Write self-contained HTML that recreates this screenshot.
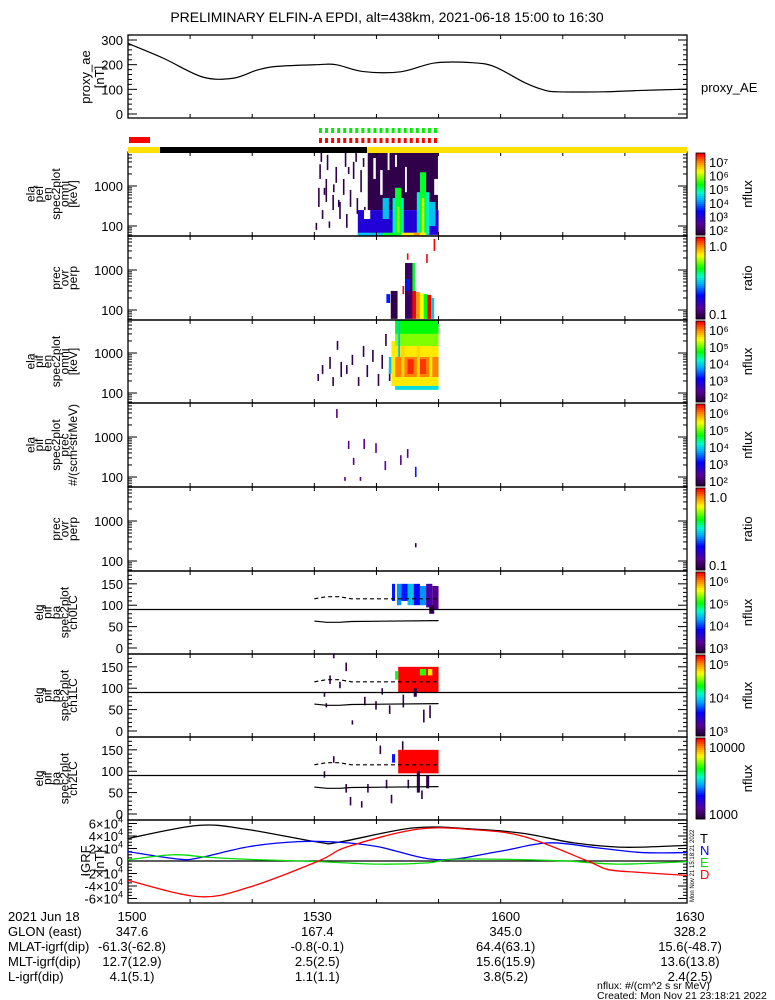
<!DOCTYPE html>
<html><head><meta charset="utf-8"><style>
body{margin:0;background:#fff}
svg{display:block;font-family:"Liberation Sans",sans-serif}
</style></head><body>
<svg id="c" width="775" height="1000" viewBox="0 0 775 1000"></svg>
<script>
// ---- data ----
const aeTimes=[0,5.7,12,16.9,20.8,24,30.4,33.5,37.9,43.9,49.4,55.4,59,63.8,66.9,69.3,76.5,82,89,90];
const aeValues=[286,226,150,145,178,193,200,200,172,171,207,208,192,128,98,90,90,95,100,100];
const igrfT_t=[0,11.4,19.5,30.7,33.9,46,55.7,63.8,71.8,79.9,90];
const igrfT_v=[36000,57000,50000,30000,30000,53000,51000,44000,29000,22000,25000];
const igrfN_t=[0,8.1,11.4,19.5,27.4,33.9,40.2,49.9,59.6,67.6,75.6,82.8,90];
const igrfN_v=[15000,3000,5000,23000,31000,30000,23000,2000,15000,29000,21000,13500,13500];
const igrfE_t=[0,7.3,12.9,21,30.7,40.2,48.3,53.1,69.3,78.8,90];
const igrfE_v=[2000,10000,6000,2000,-1000,-5000,-3000,3000,500,-5000,-1000];
const igrfD_t=[0,11.4,19.5,30.7,35.4,46.7,55.7,63.8,74,77.2,82,90];
const igrfD_v=[-31000,-57000,-42000,0,23000,51000,50000,39000,0,-13500,-18000,-23000];
const aeTicks=[0,100,200,300];
const igrfTicks=[6,4,2,0,-2,-4,-6];
const timeLabels=["1500","1530","1600","1630"];
const glon=["347.6","167.4","345.0","328.2"];
const mlat=["-61.3(-62.8)","-0.8(-0.1)","64.4(63.1)","15.6(-48.7)"];
const mlt=["12.7(12.9)","2.5(2.5)","15.6(15.9)","13.6(13.8)"];
const lshell=["4.1(5.1)","1.1(1.1)","3.8(5.2)","2.4(2.5)"];
// spectrogram blocks: [t0,t1,E0,E1,level]  (level -1 = empty)
const p1Blocks=[[38.6,49.9,250,7000,0.02],[39.5,39.9,1500,5000,-1],[40.6,41,600,2500,-1],[41.8,42.1,2500,7000,-1],[43,43.3,3000,6000,-1],[44.6,44.9,700,3000,-1],[49.3,49.9,600,1500,-1],[37,50,60,250,0.22],[38,39,150,250,-1],[41,42,150,500,0.45],[42.6,44.4,60,500,0.5],[43,44,60,900,0.6],[43.3,43.7,60,300,0.72],[46.5,48.5,60,700,0.5],[47,48,60,2200,0.6],[47.3,47.7,60,500,0.75],[48.5,49.5,100,400,0.45],[37,41,56,68,0.45],[41,44,56,68,0.6],[44,48,56,68,0.8],[46,47,56,68,0.88]];
const p1Speckles=[[30.2,80,120],[30.6,300,900],[31.2,150,250],[31.8,400,1500],[32.3,90,130],[32.9,250,600],[33.4,1200,3000],[34,150,400],[34.6,600,1500],[35.1,90,200],[35.7,300,800],[36.2,1500,4000],[36.8,200,500],[37.4,700,2500],[38,120,300],[32,2500,6000],[34.9,3000,7000],[30.8,1500,3500],[36.6,4000,7000],[31.5,600,900],[33,700,1100],[35.4,2000,3000],[37.8,3000,5000],[31,4000,7000],[33.8,300,450]];
const p2Blocks=[[42.3,43.4,60,300,0.02],[41.6,42.2,150,250,0.3],[44.6,45.8,60,1500,0.05],[44.8,45.4,300,600,0.3],[45.8,46.2,300,1500,0.6],[45.8,46.4,60,300,1.0],[46.4,47,60,280,0.88],[47,47.6,60,260,0.78],[47.6,48.2,60,250,0.62],[48.2,48.8,60,240,1.0],[48.8,49.3,60,200,0.45]];
const p2Speckles=[[49.2,3000,6000],[48.0,1500,2500],[44.2,250,400],[44.9,1800,2600]];
const p3Blocks=[[43,50,3000,6700,0.62],[43,50,1500,3000,0.7],[43,50,800,1500,0.8],[43,50,250,800,0.9],[45,46,300,700,0.97],[47,48,300,700,0.96],[44,44.5,250,1500,0.82],[46.5,47,250,1500,0.82],[48.5,49,250,1500,0.8],[43,50,150,250,0.8],[43,50,120,150,0.48],[42.4,43,150,2000,0.8],[42,42.4,300,800,0.45],[43.5,43.8,800,6700,0.45]];
const p3Speckles=[[30.5,200,300],[31.2,300,500],[32.4,400,800],[32.9,150,250],[33.6,1200,2000],[34.2,250,600],[35.1,300,500],[36,500,900],[37,150,250],[37.8,800,1500],[38.4,250,500],[39.3,600,1200],[40.2,150,300],[40.8,400,900],[41.4,1500,3000],[42,200,400]];
const p4Speckles=[[33.5,3000,5000],[35.4,500,800],[37.9,500,900],[36.2,200,300],[39.8,400,700],[41.3,150,250],[43.8,200,350],[44.9,300,500],[46.2,100,180],[34.8,80,100],[37.3,80,100]];
const p5Speckles=[[46.2,220,280]];
// pitch-angle blocks: [t0,t1,pa0,pa1,level]
const p6Blocks=[[42.5,43,110,150,0.3],[43.3,44,100,150,0.4],[44,45,110,150,0.3],[45,46,100,150,0.45],[46,47,100,150,0.28],[47,48,100,145,0.4],[48,49,95,150,0.15],[49,50,90,145,0.1],[48.5,49.3,80,100,0.02]];
const p7Blocks=[[43.5,50,90,150,1.0],[43,43.5,120,140,0.6],[47,48,130,145,0.65],[48.3,49,130,145,0.8],[46,46.5,80,100,0.02]];
const p7Speckles=[[31.5,80,90],[32.4,110,130],[34,100,115],[35,140,160],[33,170,180],[31.8,55,65],[38,60,80],[39.8,50,70],[40.8,85,100],[42,40,60],[44.2,55,85],[45.5,90,110],[47.5,20,50],[48.5,30,60],[36,15,25]];
const p8Blocks=[[43.5,50,95,150,1.0],[42.5,43,120,140,0.3],[46.5,47,50,100,0.02],[48,48.5,60,90,0.02]];
const p8Speckles=[[31.5,85,100],[33,120,135],[35,50,70],[35.7,20,40],[37.5,15,30],[38.5,50,70],[40.5,140,160],[41.5,60,80],[42.3,25,45],[44.1,150,170],[45,60,80],[47.2,35,55]];

// ---- helpers ----
const svg=document.getElementById('c');const NS='http://www.w3.org/2000/svg';
const X0=128,X1=687;
function tx(t){return X0+t*(X1-X0)/90;}
function mk(tag,attrs,parent){const e=document.createElementNS(NS,tag);for(const k in attrs)e.setAttribute(k,attrs[k]);(parent||svg).appendChild(e);return e;}
function txt(s,x,y,size,anchor,fill,rot){const e=mk('text',{x:x,y:y,'font-size':size,'text-anchor':anchor||'start',fill:fill||'#000'});if(rot)e.setAttribute('transform','rotate(-90 '+x+' '+y+')');e.textContent=s;return e;}
function smooth(pts){let d='M'+pts[0][0]+' '+pts[0][1];for(let i=0;i<pts.length-1;i++){const p0=pts[i-1]||pts[i],p1=pts[i],p2=pts[i+1],p3=pts[i+2]||p2;
 d+=' C'+(p1[0]+(p2[0]-p0[0])/6)+' '+(p1[1]+(p2[1]-p0[1])/6)+' '+(p2[0]-(p3[0]-p1[0])/6)+' '+(p2[1]-(p3[1]-p1[1])/6)+' '+p2[0]+' '+p2[1];}return d;}
function cmap(l){if(l<0)return '#fff';const st=[[0,[40,0,60]],[0.12,[90,0,150]],[0.28,[0,0,255]],[0.42,[0,170,255]],[0.52,[0,255,200]],[0.62,[0,255,0]],[0.78,[255,255,0]],[0.9,[255,130,0]],[1,[255,0,0]]];for(let i=1;i<st.length;i++){if(l<=st[i][0]){const a=st[i-1],b=st[i],f=(l-a[0])/(b[0]-a[0]);return 'rgb('+a[1].map((v,j)=>Math.round(v+(b[1][j]-v)*f)).join(',')+')';}}return 'rgb(255,0,0)';}

let e=txt('PRELIMINARY ELFIN-A EPDI, alt=438km, 2021-06-18 15:00 to 16:30',387,22,14,'middle');


const panels=[
 {top:35,bot:118,name:'ae-panel'},
 {top:152,bot:236,name:'pef-en-omni-panel',log:186,lines:['ela','pef','en','spec2plot','omni','[keV]'],cb:['10⁷','10⁶','10⁵','10⁴','10³','10²'],cbt:'nflux'},
 {top:236,bot:320,name:'pef-ratio-panel',log:270,lines:['prec','ovr','perp'],cb:['1.0','0.1'],cbt:'ratio'},
 {top:320,bot:403,name:'pif-en-omni-panel',log:353,lines:['ela','pif','en','spec2plot','omni','[keV]'],cb:['10⁶','10⁵','10⁴','10³','10²'],cbt:'nflux'},
 {top:403,bot:487,name:'pif-en-prec-panel',log:437,lines:['ela','pif','en','spec2plot','prec','#/(scm²strMeV)'],cb:['10⁶','10⁵','10⁴','10³','10²'],cbt:'nflux'},
 {top:487,bot:571,name:'pif-ratio-panel',log:521,lines:['prec','ovr','perp'],cb:['1.0','0.1'],cbt:'ratio'},
 {top:571,bot:654,name:'pa-ch0-panel',pa:true,lines:['elq','pif','pa','spec2plot','ch0LC'],cb:['10⁶','10⁵','10⁴','10³'],cbt:'nflux'},
 {top:654,bot:737,name:'pa-ch1-panel',pa:true,lines:['elq','pif','pa','spec2plot','ch1LC'],cb:['10⁵','10⁴','10³'],cbt:'nflux'},
 {top:737,bot:820,name:'pa-ch2-panel',pa:true,lines:['elq','pif','pa','spec2plot','ch2LC'],cb:['10000','1000'],cbt:'nflux'},
 {top:820,bot:903,name:'igrf-panel'}
];
function ey(p,E){return p.log-(Math.log10(E)-3)*40;}
function py(p,a){return p.bot-6-a*77/180;}
function drawBlocks(p,blocks,fy){const g=mk('g',{});
 blocks.forEach(b=>{let y1=Math.max(fy(b[3]),p.top),y2=Math.min(fy(b[2]),p.bot);const r=mk('rect',{x:tx(b[0]),y:y1,width:tx(b[1])-tx(b[0]),height:Math.max(0,y2-y1),fill:cmap(b[4])},g);});}
function drawSpeck(p,sp,fy,lev){const g=mk('g',{});
 sp.forEach(s=>{let y1=Math.max(fy(s[2]),p.top),y2=Math.min(fy(s[1]),p.bot);const r=mk('rect',{x:tx(s[0]),y:y1,width:1.6,height:y2-y1,fill:cmap(s[0]>46&&s[0]<46.5&&p.name.indexOf('prec')>0?0.3:lev)},g);});}

const P=panels;
drawSpeck(P[1],p1Speckles,E=>ey(P[1],E),0.02);
drawBlocks(P[1],p1Blocks,E=>ey(P[1],E));
drawBlocks(P[2],p2Blocks,E=>ey(P[2],E));
drawSpeck(P[2],p2Speckles,E=>ey(P[2],E),1.0);
drawSpeck(P[3],p3Speckles,E=>ey(P[3],E),0.02);
drawBlocks(P[3],p3Blocks,E=>ey(P[3],E));
drawSpeck(P[4],p4Speckles,E=>ey(P[4],E),0.12);
drawSpeck(P[5],p5Speckles,E=>ey(P[5],E),0.02);
drawBlocks(P[6],p6Blocks,a=>py(P[6],a));
drawSpeck(P[7],p7Speckles,a=>py(P[7],a),0.02);
drawBlocks(P[7],p7Blocks,a=>py(P[7],a));
drawSpeck(P[8],p8Speckles,a=>py(P[8],a),0.02);
drawBlocks(P[8],p8Blocks,a=>py(P[8],a));

const lcDash=[[30,115],[32,120],[34,120],[36,115],[50,115]];
const lcSolid=[[30,63],[32,60],[34,60],[36,62],[50,64]];
[6,7,8].forEach(i=>{const p=P[i];
 const d=mk('path',{d:lcDash.map((q,j)=>(j?'L':'M')+tx(q[0])+' '+py(p,q[1])).join(''),fill:'none',stroke:'#000','stroke-dasharray':'4,3','stroke-width':1.2});
 
 const s=mk('path',{d:lcSolid.map((q,j)=>(j?'L':'M')+tx(q[0])+' '+py(p,q[1])).join(''),fill:'none',stroke:'#000','stroke-width':1.2});
 
 const h=mk('line',{x1:X0,x2:X1,y1:py(p,90),y2:py(p,90),stroke:'#000','stroke-width':1.3});
 
});

P.forEach((p,i)=>{
 const f=mk('rect',{x:X0,y:p.top,width:X1-X0,height:p.bot-p.top,fill:'none',stroke:'#000','stroke-width':1.3});
 
 for(let m=10;m<90;m+=10){mk('line',{x1:tx(m),x2:tx(m),y1:p.top,y2:p.top+4,stroke:'#000'});mk('line',{x1:tx(m),x2:tx(m),y1:p.bot-4,y2:p.bot,stroke:'#000'});}
 const lab=mk('g',{});
 if(p.lines){const n=p.lines.length,cy=(p.top+p.bot)/2;p.lines.forEach((s,j)=>{const x=77-(n-1-j)*8.5;const t=txt(s,x,cy,12,'middle','#000',true);lab.appendChild(t);});}
 if(p.log){const g=mk('g',{});
  [100,1000].forEach(v=>{const y=ey(p,v);g.appendChild(txt(String(v),123,y+5,13,'end'));});
  for(let dec=10;dec<=10000;dec*=10)for(let k=1;k<10;k++){const v=dec*k,y=ey(p,v);if(y<p.top||y>p.bot)continue;const L=k==1?9:4;mk('line',{x1:X0,x2:X0+L,y1:y,y2:y,stroke:'#000'},g);mk('line',{x1:X1-L,x2:X1,y1:y,y2:y,stroke:'#000'},g);}
 }
 if(p.pa){const g=mk('g',{});
  [0,50,100,150].forEach(v=>g.appendChild(txt(String(v),123,py(p,v)+5,13,'end')));
  for(let a=0;a<=180;a+=10){const y=py(p,a);if(y<p.top)continue;const L=a%50==0?9:4;mk('line',{x1:X0,x2:X0+L,y1:y,y2:y,stroke:'#000'},g);mk('line',{x1:X1-L,x2:X1,y1:y,y2:y,stroke:'#000'},g);}
 }
 if(p.cb){const g=mk('g',{});
  const h=p.bot-p.top-2,n=40;for(let k=0;k<n;k++){mk('rect',{x:696,y:p.top+1+k*h/n,width:9,height:h/n+0.5,fill:cmap(1-k/(n-1))},g);}
  mk('rect',{x:696,y:p.top+1,width:9,height:h,fill:'none',stroke:'#000','stroke-width':0.8},g);
  const m=p.cb.length;p.cb.forEach((s,k)=>{const y=m==1?p.top+20:p.top+10+k*(h-14)/(m-1);g.appendChild(txt(s,709,y+5,13,'start'));});
  g.appendChild(txt(p.cbt,752,(p.top+p.bot)/2,13,'middle','#000',true));
 }
});

(function(){const p=P[0];const ay=v=>114-v*74/300;const g=mk('g',{});
 aeTicks.forEach(v=>g.appendChild(txt(String(v),123,ay(v)+5,13,'end')));
 for(let v=0;v<=320;v+=20){const y=ay(v);if(y<p.top)continue;const L=v%100==0?9:4;mk('line',{x1:X0,x2:X0+L,y1:y,y2:y,stroke:'#000'},g);mk('line',{x1:X1-L,x2:X1,y1:y,y2:y,stroke:'#000'},g);}
 const l=mk('path',{d:smooth(aeTimes.map((t,j)=>[tx(t),ay(aeValues[j])])),fill:'none',stroke:'#000','stroke-width':1.2});
 
 const t1=txt('proxy_ae',90,77,13,'middle','#000',true);
 txt('[nT]',104,77,13,'middle','#000',true);
 const lg=txt('proxy_AE',701,92,13);
})();

(function(){const g=mk('g',{});
 mk('rect',{x:129,y:137,width:21,height:6,fill:'#ff0000'},g);
 mk('rect',{x:X0,y:147,width:X1-X0,height:6,fill:'#ffe000'},g);
 mk('rect',{x:160,y:147,width:207,height:6,fill:'#000'},g);
 for(let x=319;x<=440;x+=6.05){mk('rect',{x:x,y:128,width:3,height:5,fill:'#00ee00'},g);mk('rect',{x:x,y:138,width:3,height:5,fill:'#ff0000'},g);}
})();

(function(){const p=P[9];const iy=v=>861-v*37.5/60000;
 const cl=mk('clipPath',{id:'ic'});mk('rect',{x:X0,y:p.top,width:X1-X0,height:p.bot-p.top},cl);
 const g=mk('g',{});
 igrfTicks.forEach(v=>{const y=iy(v*10000);const t=mk('text',{x:123,y:y+5,'font-size':13,'text-anchor':'end'},g);t.textContent=v==0?'0':(v+'×10');const s=mk('tspan',{'font-size':9,dy:-6},t);if(v!=0)s.textContent='4';
  mk('line',{x1:X0,x2:X0+9,y1:y,y2:y,stroke:'#000'},g);mk('line',{x1:X1-9,x2:X1,y1:y,y2:y,stroke:'#000'},g);});
 for(let v=-60000;v<=60000;v+=5000){const y=iy(v);mk('line',{x1:X0,x2:X0+4,y1:y,y2:y,stroke:'#000'},g);mk('line',{x1:X1-4,x2:X1,y1:y,y2:y,stroke:'#000'},g);}
 mk('line',{x1:X0,x2:X1,y1:iy(0),y2:iy(0),stroke:'#000','stroke-width':1.3});
 [[igrfT_t,igrfT_v,'#000','igrf-total-line'],[igrfN_t,igrfN_v,'#0000ff','igrf-north-line'],[igrfE_t,igrfE_v,'#00dd00','igrf-east-line'],[igrfD_t,igrfD_v,'#ff0000','igrf-down-line']].forEach(s=>{
  const l=mk('path',{d:smooth(s[0].map((t,j)=>[tx(t),iy(s[1][j])])),fill:'none',stroke:s[2],'stroke-width':1.3,'clip-path':'url(#ic)'});
  });
 const t=txt('IGRF',90,861,13,'middle','#000',true);
 txt('[nT]',104,861,13,'middle','#000',true);
 const lg=mk('g',{});
 [['T','#000',843],['N','#0000ff',855],['E','#00dd00',867],['D','#ff0000',879]].forEach(q=>lg.appendChild(txt(q[0],700,q[2],13,'start',q[1])));
 txt('Mon Nov 21 15:18:21 2022',694,902,6,'start','#000',true);
})();

(function(){const g=mk('g',{});
 const rows=['2021 Jun 18','GLON (east)','MLAT-igrf(dip)','MLT-igrf(dip)','L-igrf(dip)'];
 const ys=[921,936,951,966,981];
 rows.forEach((r,i)=>g.appendChild(txt(r,8,ys[i],13)));
 const xs=[tx(0)+4,tx(30)+3,tx(60)+5,tx(90)+3];
 [timeLabels,glon,mlat,mlt,lshell].forEach((arr,i)=>arr.forEach((s,j)=>g.appendChild(txt(s,xs[j],ys[i],13,'middle'))));
 txt('nflux: #/(cm^2 s sr MeV)',597,989,10.5);
 txt('Created: Mon Nov 21 23:18:21 2022',597,999,10.5);
})();
</script>
</body></html>
